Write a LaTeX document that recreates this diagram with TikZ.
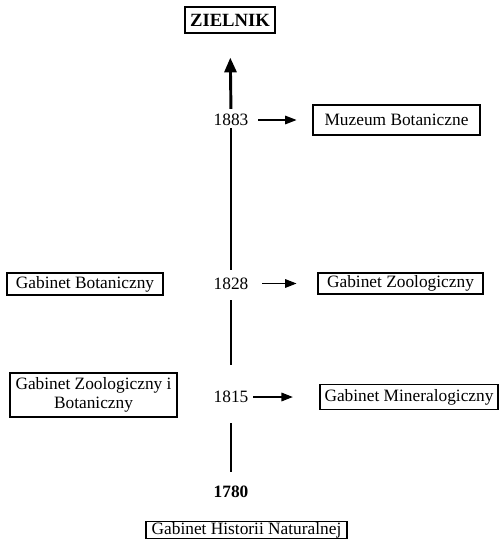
\documentclass[tikz,border=0pt]{standalone}
\usepackage{fontspec}
\setmainfont{Liberation Serif}
\usetikzlibrary{arrows.meta}

\tikzset{
  unitbox/.style={draw, line width=0.8pt, inner sep=0.75pt, align=center, font=\fontsize{13}{14}\selectfont},
  yearlabel/.style={inner sep=0.75pt, font=\fontsize{13}{14}\selectfont},
  timeline/.style={line width=2.2pt},
  branch/.style={line width=0.8pt, -{Triangle[length=8.5pt,width=6.5pt]}}
}

\begin{document}
\begin{tikzpicture}[x=0.75pt,y=0.75pt,yscale=-1,xscale=1]
    \useasboundingbox (0,0) rectangle (501,549);

    % Text Node
    \node [unitbox, line width=1pt, minimum width=67.5pt, minimum height=19.5pt, font=\fontsize{14}{15}\selectfont\bfseries] (zielnik) at (230,20) {ZIELNIK};
    % Text Node
    \node [yearlabel] (y1883) at (231,120) {1883};
    \node [yearlabel] (y1828) at (231,283.5) {1828};
    \node [yearlabel] (y1815) at (231,397) {1815};
    \node [yearlabel, font=\fontsize{13}{14}\selectfont\bfseries] (y1780) at (231,492) {1780};
    % Text Node
    \node [unitbox, minimum width=125.25pt, minimum height=22.5pt] (muzeum) at (396.5,120) {Muzeum Botaniczne};
    \node [unitbox, minimum width=117pt, minimum height=16.5pt] (botan) at (85,284) {Gabinet Botaniczny};
    \node [unitbox, minimum width=123.75pt, minimum height=15.75pt] (zoolog) at (400.5,283.5) {Gabinet Zoologiczny};
    \node [unitbox, minimum width=125.25pt, minimum height=33pt] (zoobotan) at (93.5,395) {Gabinet Zoologiczny i\\Botaniczny};
    \node [unitbox, minimum width=133.5pt, minimum height=18.75pt] (mineral) at (409,397) {Gabinet Mineralogiczny};
    \node [unitbox, minimum width=150.75pt, minimum height=12pt] (historia) at (246.5,530) {Gabinet Historii Naturalnej};

    %Straight Lines
    \draw [timeline] (y1780.north) [shorten <=10pt, shorten >=14.3pt] -- (y1815.south);
    \draw [timeline] (y1815.north) [shorten <=19pt, shorten >=7.2pt] -- (y1828.south);
    \draw [timeline] (y1828.north) [shorten <=5pt, shorten >=0.8pt] -- (y1883.south);
    \draw [timeline, -{Triangle[length=11pt,width=9pt]}] (y1883.north) [shorten <=3pt, shorten >=18pt] -- (zielnik.south);

    %Straight Lines
    \draw [branch] (y1883.east) [shorten <=6.5pt, shorten >=12pt] -- (muzeum.west);
    \draw [branch] (y1828.east) [shorten <=9.5pt, shorten >=15.75pt] -- (zoolog.west);
    \draw [branch] (y1815.east) [shorten <=2.8pt, shorten >=20pt] -- (mineral.west);
\end{tikzpicture}
\end{document}
